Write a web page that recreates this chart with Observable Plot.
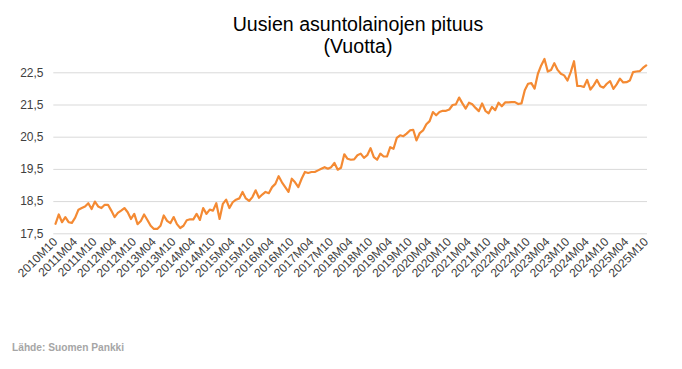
<!DOCTYPE html>
<html><head><meta charset="utf-8">
<script src="https://cdn.jsdelivr.net/npm/d3@7"></script>
<script src="https://cdn.jsdelivr.net/npm/@observablehq/plot@0.6"></script>
<style>
body{margin:0;background:#fff;}
#wrap{position:relative;width:682px;height:369px;overflow:hidden;font-family:"Liberation Sans",Arial,sans-serif;background:#fff;}
#title{position:absolute;left:0;width:716px;top:13px;text-align:center;font-size:19.6px;line-height:22px;color:#000;}
#caption{position:absolute;left:12px;top:342px;font-size:10.2px;font-weight:bold;color:#a6a6a6;}
#chart{position:absolute;left:0;top:0;}
</style></head>
<body>
<div id="wrap">
  <div id="chart"></div>
  <div id="title">Uusien asuntolainojen pituus<br>(Vuotta)</div>
  <div id="caption">Lähde: Suomen Pankki</div>
</div>
<script>
const startYear = 2010, startMonth = 10, monthCount = 181;
const values = [
17.81,18.10,17.86,18.02,17.86,17.84,18.00,18.25,18.30,18.35,
18.45,18.27,18.50,18.35,18.30,18.40,18.40,18.22,18.02,18.15,
18.22,18.30,18.17,17.96,18.12,17.80,17.90,18.10,17.93,17.75,
17.65,17.65,17.75,18.07,17.90,17.83,18.02,17.80,17.68,17.75,
17.92,17.95,17.95,18.12,17.93,18.30,18.12,18.25,18.22,18.45,
17.96,18.43,18.56,18.30,18.48,18.56,18.60,18.80,18.60,18.52,
18.64,18.85,18.62,18.72,18.80,18.76,18.95,19.05,19.29,19.10,
18.95,18.80,19.21,19.10,18.95,19.21,19.42,19.39,19.42,19.42,
19.47,19.52,19.57,19.52,19.57,19.70,19.49,19.55,19.97,19.83,
19.80,19.81,19.94,19.99,19.86,19.94,20.16,19.88,19.80,19.99,
19.90,19.90,20.19,20.14,20.48,20.56,20.53,20.61,20.71,20.73,
20.40,20.63,20.71,20.90,21.00,21.28,21.18,21.28,21.32,21.32,
21.36,21.50,21.52,21.73,21.55,21.39,21.57,21.52,21.41,21.31,
21.55,21.32,21.24,21.44,21.34,21.57,21.46,21.58,21.58,21.59,
21.59,21.53,21.55,21.96,22.16,22.18,22.01,22.47,22.73,22.93,
22.54,22.59,22.80,22.59,22.47,22.42,22.26,22.52,22.86,22.09,
22.09,22.06,22.28,21.98,22.11,22.28,22.08,22.04,22.16,22.24,
22.00,22.14,22.32,22.20,22.21,22.26,22.52,22.54,22.55,22.65,
22.73
];
const tickLabels = ["2010M10","2011M04","2011M10","2012M04","2012M10","2013M04","2013M10","2014M04","2014M10","2015M04","2015M10","2016M04","2016M10","2017M04","2017M10","2018M04","2018M10","2019M04","2019M10","2020M04","2020M10","2021M04","2021M10","2022M04","2022M10","2023M04","2023M10","2024M04","2024M10","2025M04","2025M10"];
const yTicks = [17.5, 18.5, 19.5, 20.5, 21.5, 22.5];

const months = [];
for (let k = 0; k < monthCount; k++) {
  const t = (startMonth - 1) + k;
  const y = startYear + Math.floor(t / 12);
  const m = (t % 12) + 1;
  months.push(y + "M" + String(m).padStart(2, "0"));
}
const data = months.map((m, i) => ({m, v: values[i]}));

const chart = Plot.plot({
  width: 682,
  height: 369,
  marginLeft: 55,
  marginRight: 36.3,
  marginTop: 56.2,
  marginBottom: 135.7,
  style: {fontFamily: '"Liberation Sans", Arial, sans-serif', fontSize: "12px", color: "#404040", background: "transparent"},
  x: {type: "point", domain: months, padding: 0, axis: null},
  y: {domain: [17.5, 23.0], axis: null},
  marks: [
    Plot.ruleY(yTicks, {stroke: "#d9d9d9", strokeWidth: 1, insetLeft: -1.7, insetRight: -1.3}),
    Plot.line(data, {x: "m", y: "v", stroke: "#f48a33", strokeWidth: 2.2, strokeLinejoin: "round"}),
    Plot.axisY(yTicks, {tickSize: 0, tickPadding: 12, tickFormat: d => d.toFixed(1).replace(".", ","), fontSize: 12, fill: "#404040", label: null}),
    Plot.axisX(tickLabels, {tickRotate: -45, tickSize: 0, tickPadding: 6, fontSize: 12, fill: "#404040", label: null})
  ]
});
document.getElementById("chart").appendChild(chart);
</script>
</body></html>
